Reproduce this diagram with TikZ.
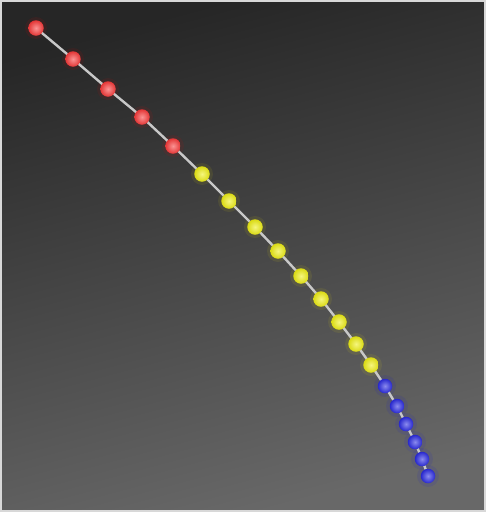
\documentclass[tikz,border=0pt]{standalone}
\usetikzlibrary{shadings}
\definecolor{bgtop}{HTML}{262626}
\definecolor{bgbot}{HTML}{686868}
\definecolor{rodc}{HTML}{C8C8C8}
\definecolor{redb}{HTML}{F73A3A}
\definecolor{yelb}{HTML}{EDED14}
\definecolor{blub}{HTML}{2B2BE0}
\definecolor{framec}{HTML}{D8D8D8}
\tikzset{
  bead/.style={circle, inner sep=0pt, minimum size=15.5pt, shading=radial,
    inner color=#1!55!white, outer color=#1!92!black},
  redbead/.style={bead=redb},
  yelbead/.style={bead=yelb},
  blubead/.style={bead=blub, minimum size=14.5pt},
  rod/.style={draw=rodc, line width=2.4pt},
  glow/.style={circle, inner sep=0pt, minimum size=22pt, fill=#1, fill opacity=0.08}
}
\begin{document}
\begin{tikzpicture}[x=1pt,y=-1pt]
\useasboundingbox (0,0) rectangle (486,512);
\shade[shading=axis, top color=bgtop, bottom color=bgbot, shading angle=15] (0,0) rectangle (486,512);
\draw[framec, line width=2pt] (1,1) rectangle (485,511);
% glows
\foreach \p in {(36,28),(73,59),(108,89),(142,117),(173,146)} \node[glow=red] at \p {};
\foreach \p in {(202,174),(229,201),(255,227),(278,251),(301,276),(321,299),(339,322),(356,344),(371,365)} \node[glow=yellow] at \p {};
\foreach \p in {(385,386),(397,406),(406,424),(415,442),(422,459),(428,476)} \node[glow=blue] at \p {};
% coordinates for beads
\coordinate (cr1) at (36,28);
\coordinate (cr2) at (73,59);
\coordinate (cr3) at (108,89);
\coordinate (cr4) at (142,117);
\coordinate (cr5) at (173,146);
\coordinate (cy1) at (202,174);
\coordinate (cy2) at (229,201);
\coordinate (cy3) at (255,227);
\coordinate (cy4) at (278,251);
\coordinate (cy5) at (301,276);
\coordinate (cy6) at (321,299);
\coordinate (cy7) at (339,322);
\coordinate (cy8) at (356,344);
\coordinate (cy9) at (371,365);
\coordinate (cb1) at (385,386);
\coordinate (cb2) at (397,406);
\coordinate (cb3) at (406,424);
\coordinate (cb4) at (415,442);
\coordinate (cb5) at (422,459);
\coordinate (cb6) at (428,476);
\draw[rod] (cr1) -- (cr2) -- (cr3) -- (cr4) -- (cr5) -- (cy1) -- (cy2) -- (cy3) -- (cy4) -- (cy5) -- (cy6) -- (cy7) -- (cy8) -- (cy9) -- (cb1) -- (cb2) -- (cb3) -- (cb4) -- (cb5) -- (cb6);
\foreach \i in {1,...,5} \node[redbead] (r\i) at (cr\i) {};
\foreach \i in {1,...,9} \node[yelbead] (y\i) at (cy\i) {};
\foreach \i in {1,...,6} \node[blubead] (b\i) at (cb\i) {};
\end{tikzpicture}
\end{document}
